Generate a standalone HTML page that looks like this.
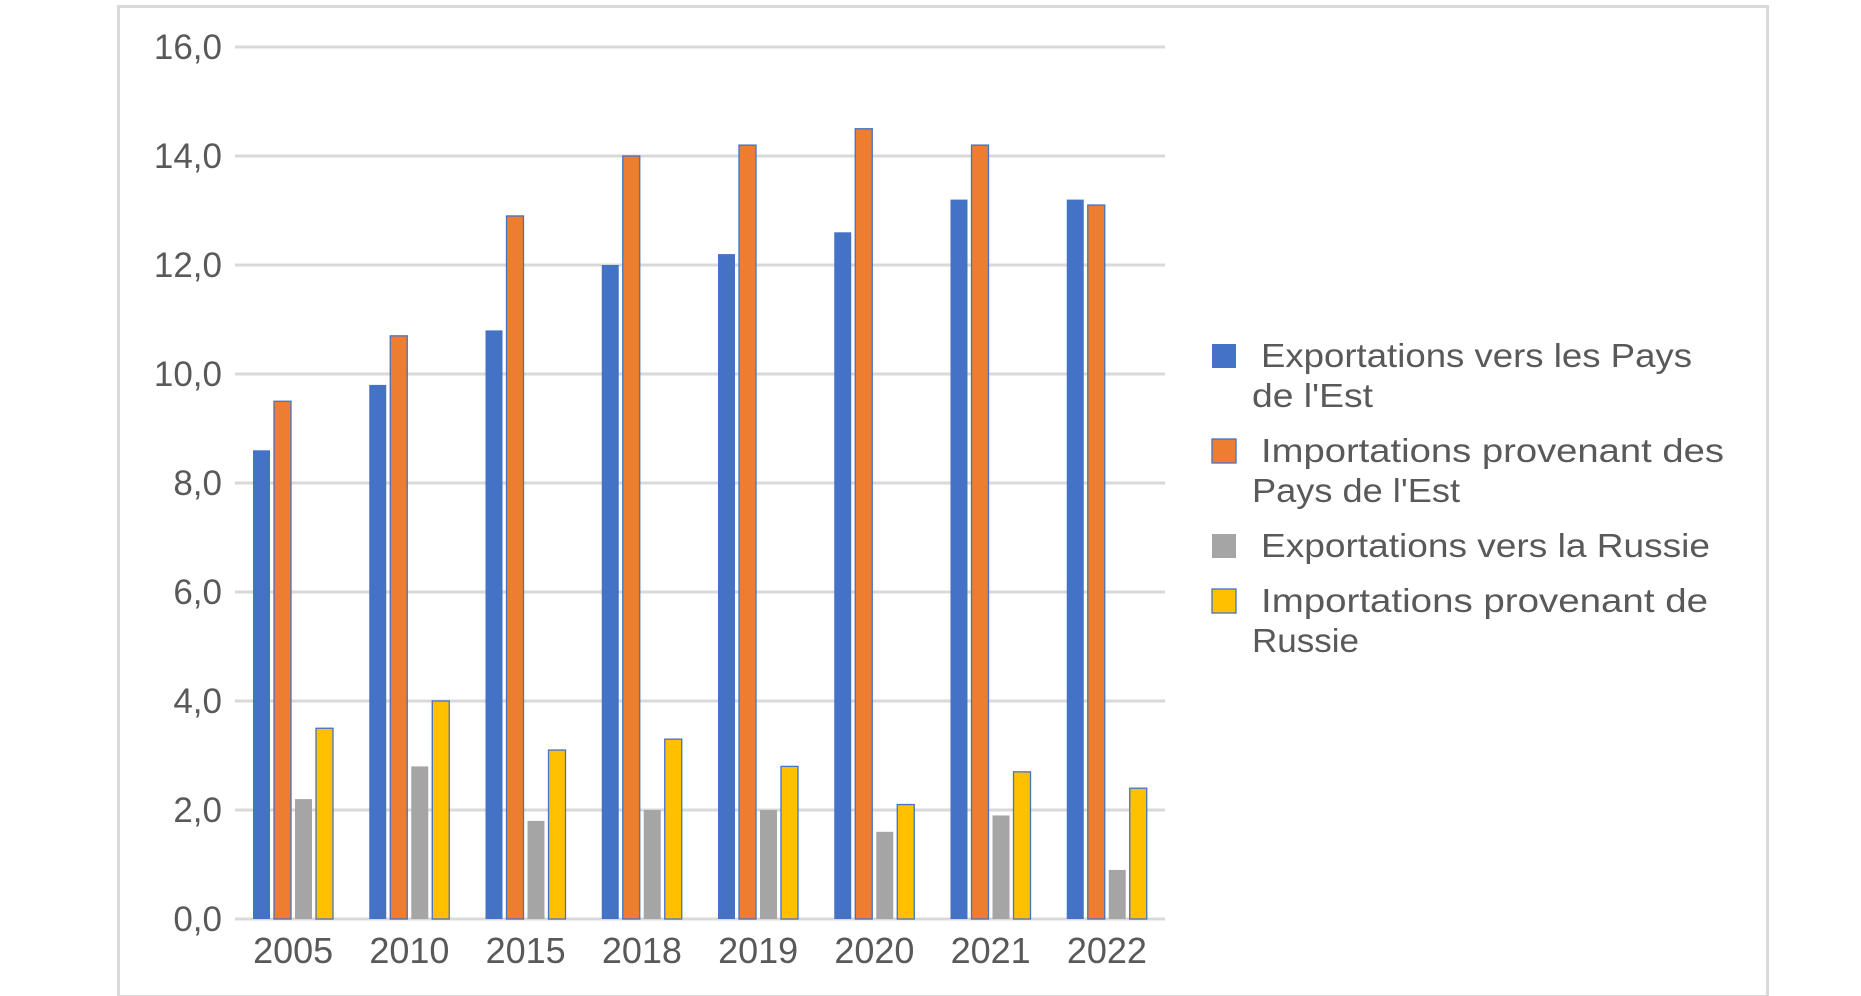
<!DOCTYPE html>
<html><head><meta charset="utf-8"><style>
html,body{margin:0;padding:0;background:#fff;}
svg{display:block;}
text{font-family:"Liberation Sans",sans-serif;fill:#595959;}
</style></head><body>
<svg id="chart" width="1861" height="996" viewBox="0 0 1861 996" xmlns="http://www.w3.org/2000/svg">
<rect x="118.5" y="6.5" width="1649" height="990" fill="#fff" stroke="#d9d9d9" stroke-width="3"/>
<g id="grid"></g>
<g id="bars"></g>
<g id="labels"></g>
<g id="legend"></g>
</svg>
<script>
const categories = ["2005","2010","2015","2018","2019","2020","2021","2022"];
const exportsEst = [8.6, 9.8, 10.8, 12.0, 12.2, 12.6, 13.2, 13.2];
const importsEst = [9.5, 10.7, 12.9, 14.0, 14.2, 14.5, 14.2, 13.1];
const exportsRussie = [2.2, 2.8, 1.8, 2.0, 2.0, 1.6, 1.9, 0.9];
const importsRussie = [3.5, 4.0, 3.1, 3.3, 2.8, 2.1, 2.7, 2.4];
const yTicks = [0, 2, 4, 6, 8, 10, 12, 14, 16];
const yTickLabels = ["0,0","2,0","4,0","6,0","8,0","10,0","12,0","14,0","16,0"];
const seriesNames = ["Exportations vers les Pays de l'Est","Importations provenant des Pays de l'Est","Exportations vers la Russie","Importations provenant de Russie"];

const NS = "http://www.w3.org/2000/svg";
const X0 = 235, X1 = 1165, Y0 = 919, Y1 = 47, YMAX = 16;
const catW = (X1 - X0) / categories.length;
function y(v){ return Y0 - (v / YMAX) * (Y0 - Y1); }
function xCat(i){ return X0 + i * catW; }
function mk(tag, attrs, parent){ const e = document.createElementNS(NS, tag); for (const k in attrs) e.setAttribute(k, attrs[k]); parent.appendChild(e); return e; }

const grid = document.getElementById('grid');
const labels = document.getElementById('labels');
yTicks.forEach((t, i) => {
  const l = mk('line', {x1: X0, x2: X1, y1: y(t), y2: y(t), stroke: '#d9d9d9', 'stroke-width': 3}, grid);
  
  
  const tx = mk('text', {x: 222, y: y(t) + 12, 'text-anchor': 'end', 'font-size': 35}, labels);
  tx.textContent = yTickLabels[i];
  
  
});

const series = [exportsEst, importsEst, exportsRussie, importsRussie];
const colors = ['#4472c4', '#ed7d31', '#a5a5a5', '#ffc000'];
const strokes = ['none', '#4472c4', 'none', '#4472c4'];
const barsG = document.getElementById('bars');
const barW = 17, step = 21, off = 18;
categories.forEach((c, i) => {
  series.forEach((s, k) => {
    const v = s[i];
    const r = mk('rect', {x: xCat(i) + off + k * step, y: y(v), width: barW, height: Y0 - y(v), fill: colors[k], stroke: strokes[k], 'stroke-width': strokes[k] === 'none' ? 0 : 1.3}, barsG);
    
    
  });
  const tx = mk('text', {x: xCat(i) + catW / 2, y: 963, 'text-anchor': 'middle', 'font-size': 36}, labels);
  tx.textContent = c;
  
  
});

const legend = document.getElementById('legend');
const legendLines = [[["Exportations vers les Pays",431],["de l'Est",121]],[["Importations provenant des",463],["Pays de l'Est",208]],[["Exportations vers la Russie",449]],[["Importations provenant de",447],["Russie",107]]];
const legendBase = [367, 462, 557, 612];
legendLines.forEach((lines, k) => {
  const g = mk('g', {}, legend);
  
  
  mk('rect', {x: 1212, y: legendBase[k] - 23, width: 24, height: 24, fill: colors[k], stroke: strokes[k], 'stroke-width': strokes[k] === 'none' ? 0 : 1.3}, g);
  lines.forEach((ln, j) => {
    const tx = mk('text', {x: j === 0 ? 1261 : 1252, y: legendBase[k] + j * 40, 'font-size': 33, textLength: ln[1], lengthAdjust: 'spacingAndGlyphs'}, g);
    tx.textContent = ln[0];
  });
});
</script>
</body></html>
